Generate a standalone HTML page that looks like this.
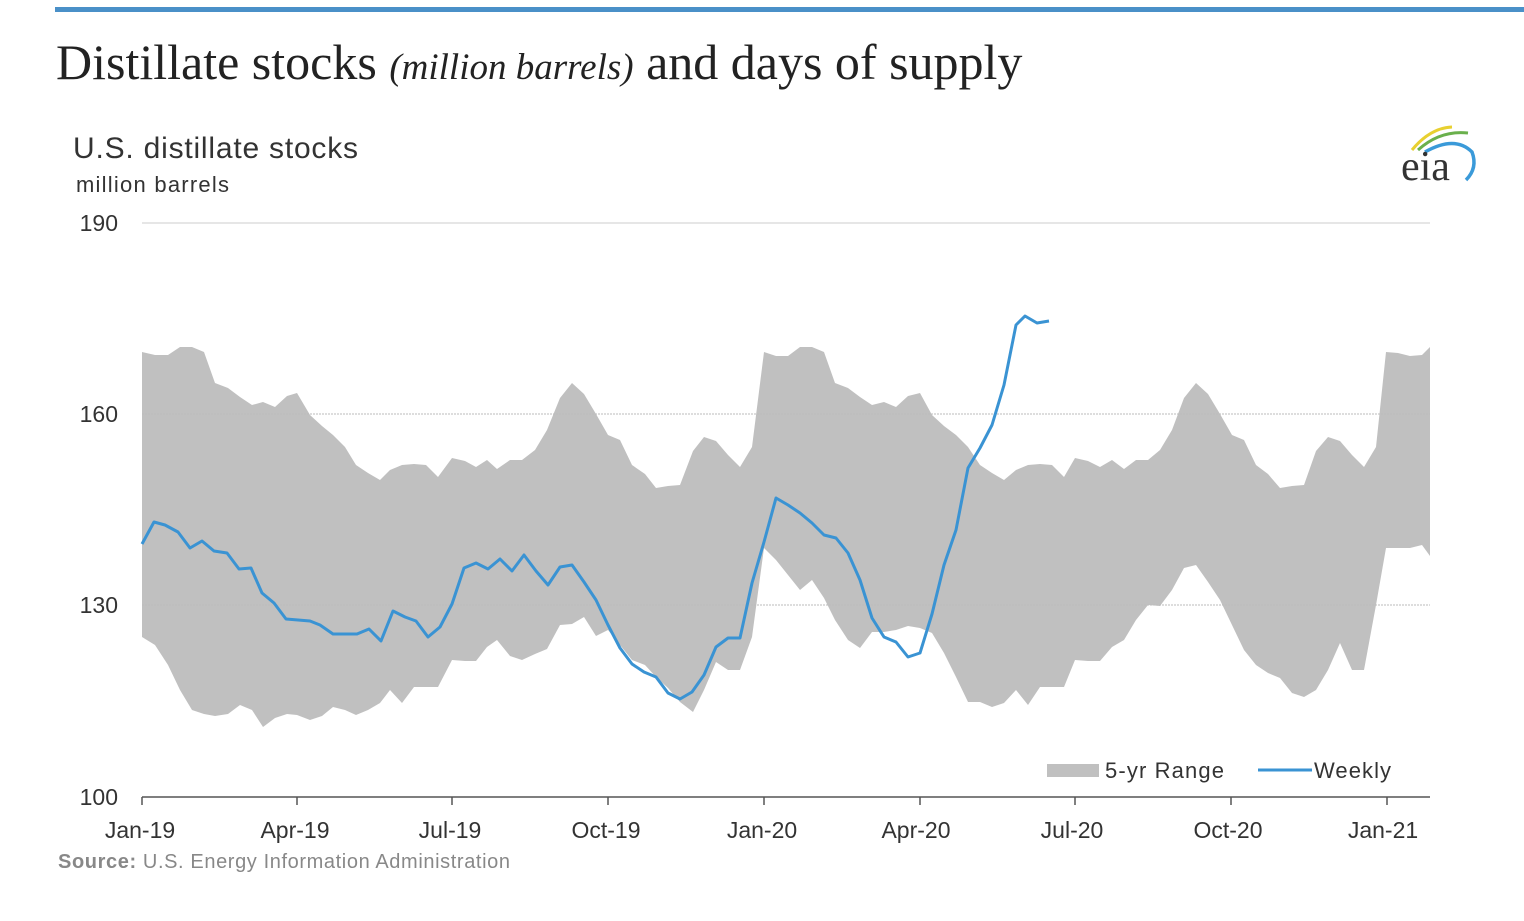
<!DOCTYPE html>
<html><head><style>
body{margin:0;background:#fff;width:1524px;height:921px;overflow:hidden;position:relative}
</style></head><body>
<div style="position:absolute;left:55px;top:7px;width:1469px;height:5px;background:#4a90c8"></div>
<div style="position:absolute;left:56px;top:33px;font-family:'Liberation Serif',serif;font-size:50px;color:#222;white-space:nowrap">Distillate stocks <i style="font-size:37px">(million barrels)</i> and days of supply</div>
<svg style="position:absolute;left:0;top:0" width="1524" height="921" font-family="Liberation Sans, sans-serif">
<text x="73" y="158" font-size="30" fill="#333" textLength="285">U.S. distillate stocks</text>
<text x="76" y="192" font-size="22" fill="#333" textLength="153">million barrels</text>
<g font-size="23" fill="#333">
<text x="118" y="231" text-anchor="end">190</text>
<text x="118" y="422" text-anchor="end">160</text>
<text x="118" y="613" text-anchor="end">130</text>
<text x="118" y="805" text-anchor="end">100</text>
</g>
<g stroke="#ccc" stroke-width="1"><line x1="142" y1="223" x2="1430" y2="223"/></g>
<polygon fill="#c0c0c0" points="142,352 155,355 168,355 180,347 192,347 204,352 215,383 228,388 240,397 252,405 263,402 275,407 287,396 297,393 310,415 322,426 333,435 345,447 356,465 368,473 380,480 390,470 402,465 414,464 426,465 438,477 452,458 465,461 476,467 487,460 497,469 510,460 522,460 535,450 547,430 560,398 572,383 584,394 596,414 608,435 620,440 632,465 645,474 656,488 668,486 680,485 693,451 704,437 716,441 728,455 740,467 752,447 764,352 776,356 788,356 800,347 812,347 824,352 835,383 848,388 860,397 872,405 884,402 896,407 908,396 920,393 932,415 944,426 956,435 968,447 980,465 992,473 1004,480 1016,470 1028,465 1040,464 1052,465 1064,477 1075,458 1088,461 1100,467 1112,460 1124,469 1136,460 1148,460 1160,450 1172,430 1184,398 1196,383 1208,394 1220,414 1232,435 1244,440 1256,465 1268,474 1280,488 1292,486 1304,485 1316,451 1328,437 1340,441 1352,455 1364,467 1376,447 1386,352 1398,353 1410,356 1422,355 1430,347 1430,556 1422,545 1410,548 1398,548 1386,548 1376,605 1364,670 1352,670 1340,643 1328,670 1316,690 1304,697 1292,693 1280,678 1268,673 1256,665 1244,650 1232,625 1220,600 1208,582 1196,565 1184,568 1172,590 1160,606 1148,605 1136,620 1124,640 1112,647 1100,661 1088,661 1075,660 1064,687 1052,687 1040,687 1028,705 1016,690 1004,703 992,707 980,702 968,702 956,677 944,653 932,633 920,628 908,626 896,630 884,632 872,632 860,648 848,640 835,620 824,598 812,580 800,590 788,575 776,560 764,548 752,637 740,670 728,670 716,662 704,690 693,712 680,702 668,688 656,677 645,665 632,660 620,645 608,630 596,636 584,617 572,624 560,625 547,649 535,654 522,660 510,656 497,640 487,647 476,661 465,661 452,660 438,687 426,687 414,687 402,703 390,690 380,703 368,710 356,715 345,710 333,707 322,716 310,720 297,715 287,714 275,718 263,727 252,710 240,705 228,714 215,716 204,714 192,710 180,690 168,665 155,645 142,637"/>
<g stroke="#bbb" stroke-width="1" stroke-dasharray="2,1"><line x1="142" y1="414" x2="1430" y2="414"/><line x1="142" y1="605" x2="1430" y2="605"/></g>
<polyline fill="none" stroke="#3a93d3" stroke-width="3" stroke-linejoin="round" points="142,544 154,522 165,525 178,532 190,548 202,541 214,551 227,553 239,569 251,568 262,593 274,603 286,619 298,620 310,621 320,625 333,634 345,634 357,634 369,629 381,641 393,611 405,617 416,621 428,637 440,627 452,604 464,568 476,563 488,569 500,559 512,571 524,555 536,571 548,585 560,567 572,565 584,582 596,600 608,625 620,648 632,664 644,672 656,677 668,693 680,699 692,692 704,675 716,647 728,638 740,638 752,583 764,542 776,498 788,505 800,513 812,523 824,535 836,538 848,553 860,580 872,618 884,637 896,642 908,657 920,653 932,614 944,565 956,530 968,468 980,448 992,425 1004,385 1016,325 1025,316 1037,323 1049,321"/>
<line x1="142" y1="797" x2="1430" y2="797" stroke="#555" stroke-width="1.5"/>
<g stroke="#555" stroke-width="1.5">
<line x1="142" y1="797" x2="142" y2="805"/><line x1="297" y1="797" x2="297" y2="805"/><line x1="452" y1="797" x2="452" y2="805"/><line x1="608" y1="797" x2="608" y2="805"/><line x1="764" y1="797" x2="764" y2="805"/><line x1="920" y1="797" x2="920" y2="805"/><line x1="1075" y1="797" x2="1075" y2="805"/><line x1="1231" y1="797" x2="1231" y2="805"/><line x1="1387" y1="797" x2="1387" y2="805"/>
</g>
<g font-size="23" fill="#333" text-anchor="middle">
<text x="140" y="838">Jan-19</text><text x="295" y="838">Apr-19</text><text x="450" y="838">Jul-19</text><text x="606" y="838">Oct-19</text><text x="762" y="838">Jan-20</text><text x="916" y="838">Apr-20</text><text x="1072" y="838">Jul-20</text><text x="1228" y="838">Oct-20</text><text x="1383" y="838">Jan-21</text>
</g>
<text x="58" y="868" font-size="20" fill="#888" textLength="452"><tspan font-weight="bold">Source:</tspan> U.S. Energy Information Administration</text>
<rect x="1047" y="764" width="52" height="13" fill="#c0c0c0"/>
<text x="1105" y="778" font-size="22" fill="#333" textLength="119">5-yr Range</text>
<line x1="1258" y1="770" x2="1312" y2="770" stroke="#3a93d3" stroke-width="3"/>
<text x="1314" y="778" font-size="22" fill="#333" textLength="77">Weekly</text>
<path d="M1412,150 Q1430,128 1452,127" stroke="#e8d030" stroke-width="3" fill="none"/>
<path d="M1418,150 Q1440,130 1468,133" stroke="#6ab04c" stroke-width="3" fill="none"/>
<path d="M1425,152 Q1455,135 1472,152 Q1478,168 1466,180" stroke="#3a9ad9" stroke-width="3.5" fill="none"/>
<text x="1401" y="180" font-family="Liberation Serif, serif" font-size="42" fill="#333">eia</text>
</svg>
</body></html>
